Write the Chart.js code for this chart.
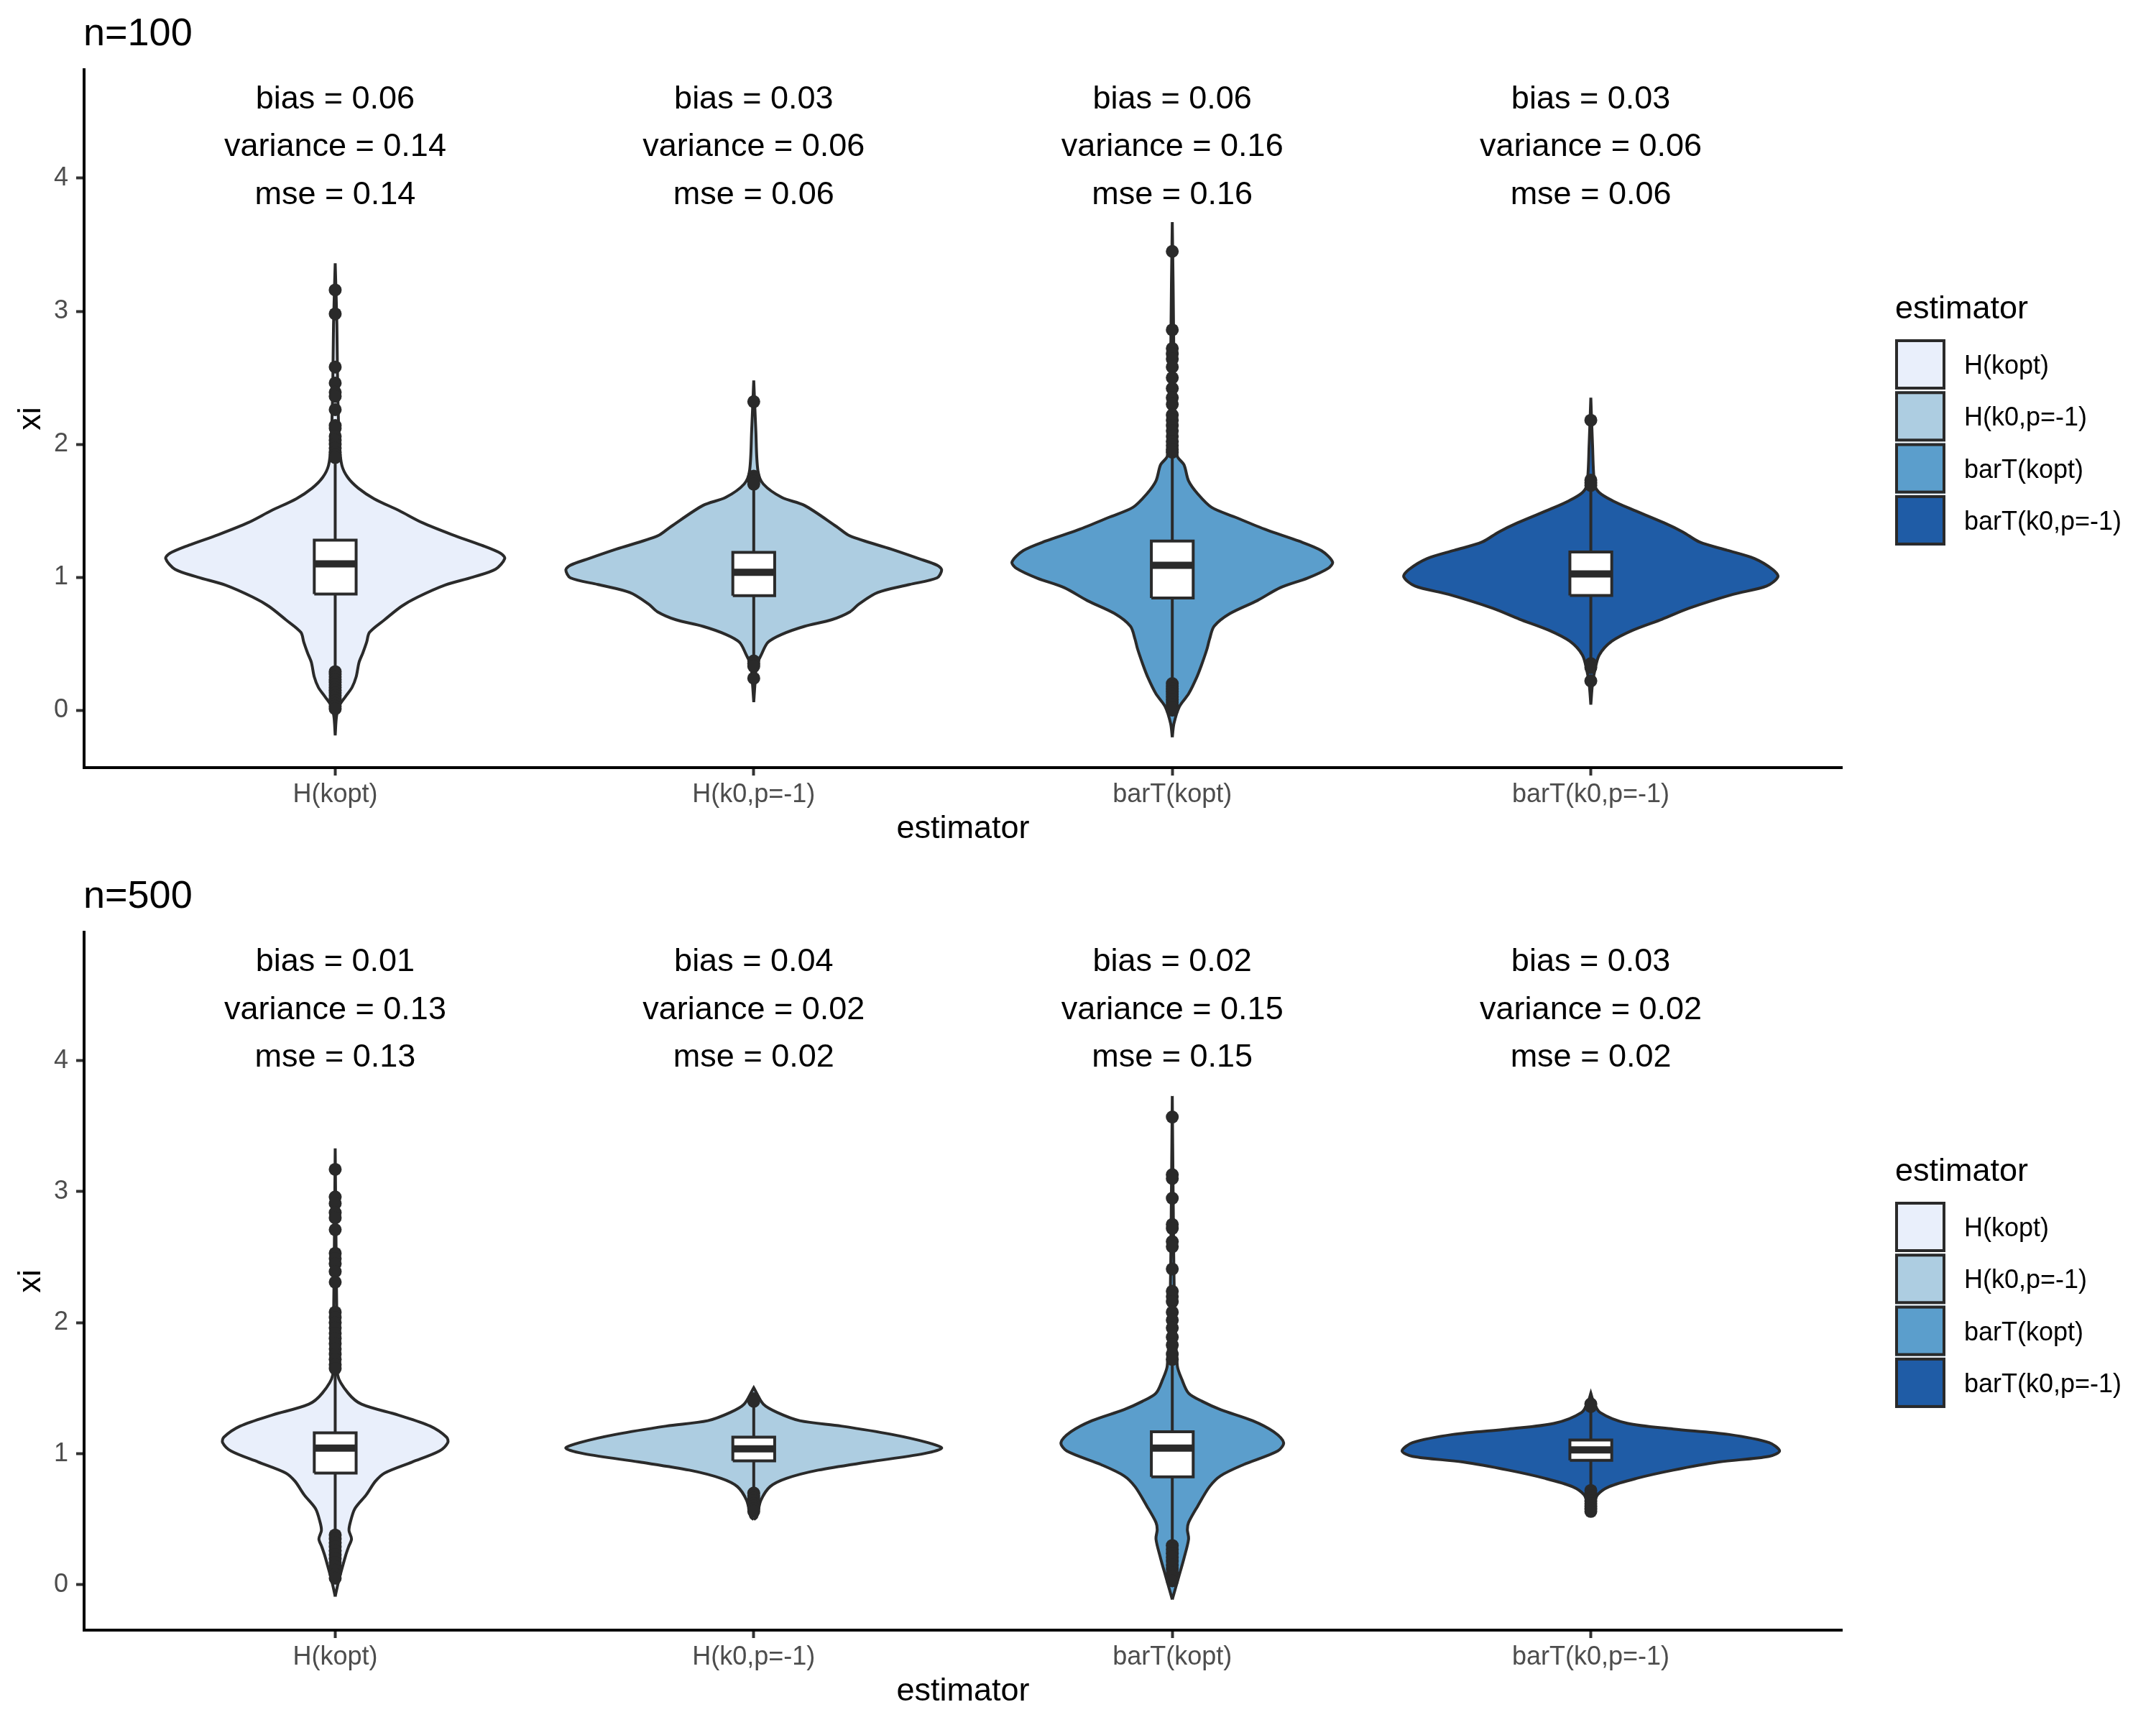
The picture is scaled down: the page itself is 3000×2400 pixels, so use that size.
<!DOCTYPE html>
<html>
<head>
<meta charset="utf-8">
<script src="https://cdn.jsdelivr.net/npm/chart.js@4.4.1/dist/chart.umd.min.js"></script>
<style>
  body { margin: 0; background: #fff; }
  canvas { display: block; }
</style>
</head>
<body>
<canvas id="chart100" width="3000" height="1200"></canvas>
<canvas id="chart500" width="3000" height="1200"></canvas>
<script>
const estimators = ['H(kopt)', 'H(k0,p=-1)', 'barT(kopt)', 'barT(k0,p=-1)'];
const estimatorFills = ['#E9EFFB', '#ADCDE1', '#5B9ECC', '#1F5CA6'];
const yTicks = [0, 1, 2, 3, 4];

// ---- n=100 ----
const bias100 = [0.06, 0.03, 0.06, 0.03];
const variance100 = [0.14, 0.06, 0.16, 0.06];
const mse100 = [0.14, 0.06, 0.16, 0.06];
const labelY100 = [4.59, 4.235, 3.875];
const yRange100 = [-0.432, 4.816];

// violin outlines: [xi, half width in category units]
const dens100 = [
  [[-0.19,0],[-0.05,0.003],[0.03,0.009],[0.10,0.024],[0.17,0.040],[0.25,0.050],[0.36,0.057],[0.43,0.066],[0.51,0.075],[0.585,0.082],[0.68,0.118],[0.78,0.158],[0.85,0.197],[0.94,0.262],[1.00,0.328],[1.06,0.383],[1.14,0.405],[1.18,0.395],[1.24,0.35],[1.32,0.279],[1.41,0.208],[1.50,0.153],[1.59,0.093],[1.67,0.055],[1.75,0.03],[1.84,0.016],[2.0,0.01],[2.4,0.006],[2.9,0.004],[3.36,0]],
  [[0.06,0],[0.2,0.003],[0.34,0.007],[0.41,0.017],[0.51,0.034],[0.57,0.067],[0.63,0.121],[0.68,0.186],[0.74,0.23],[0.80,0.252],[0.885,0.296],[0.945,0.372],[0.995,0.438],[1.055,0.449],[1.09,0.438],[1.14,0.394],[1.21,0.329],[1.31,0.23],[1.38,0.198],[1.54,0.121],[1.60,0.067],[1.70,0.023],[1.8,0.01],[2.1,0.005],[2.48,0]],
  [[-0.204,0],[-0.1,0.004],[0.027,0.017],[0.123,0.039],[0.244,0.058],[0.341,0.07],[0.461,0.083],[0.534,0.089],[0.631,0.1],[0.727,0.138],[0.824,0.203],[0.921,0.258],[0.993,0.323],[1.066,0.372],[1.114,0.383],[1.2,0.356],[1.272,0.302],[1.356,0.225],[1.453,0.149],[1.525,0.094],[1.626,0.061],[1.724,0.039],[1.845,0.028],[1.91,0.012],[2.1,0.007],[2.6,0.004],[3.2,0.002],[3.67,0]],
  [[0.042,0],[0.2,0.004],[0.29,0.009],[0.414,0.02],[0.518,0.05],[0.601,0.1],[0.684,0.17],[0.767,0.235],[0.871,0.34],[0.933,0.42],[1.003,0.447],[1.057,0.435],[1.14,0.391],[1.202,0.326],[1.264,0.26],[1.34,0.22],[1.409,0.175],[1.513,0.096],[1.575,0.052],[1.637,0.02],[1.70,0.009],[2.0,0.004],[2.35,0]]
];
const q1_100 = [0.873, 0.861, 0.843, 0.862];
const median100 = [1.10, 1.037, 1.09, 1.024];
const q3_100 = [1.279, 1.187, 1.272, 1.19];
const whiskLo100 = [0.28, 0.38, 0.22, 0.38];
const whiskHi100 = [1.86, 1.66, 1.90, 1.66];
const outliers100 = [
  [3.16, 2.98, 2.58, 2.46, 2.39, 2.36, 2.26, 2.14, 2.12, 2.06, 2.03, 2.0, 1.97, 1.94, 1.92, 1.90, 0.29, 0.27, 0.25, 0.23, 0.21, 0.19, 0.17, 0.15, 0.13, 0.11, 0.09, 0.07, 0.05, 0.03, 0.01],
  [2.32, 1.76, 1.74, 1.72, 1.70, 0.37, 0.35, 0.33, 0.24],
  [3.45, 2.86, 2.72, 2.68, 2.64, 2.58, 2.50, 2.42, 2.35, 2.30, 2.22, 2.18, 2.14, 2.10, 2.06, 2.02, 1.99, 1.96, 1.94, 0.20, 0.18, 0.16, 0.14, 0.12, 0.10, 0.08, 0.06, 0.04, 0.02, 0.0],
  [2.18, 1.73, 1.71, 1.69, 0.35, 0.32, 0.22]
];

// ---- n=500 ----
const bias500 = [0.01, 0.04, 0.02, 0.03];
const variance500 = [0.13, 0.02, 0.15, 0.02];
const mse500 = [0.13, 0.02, 0.15, 0.02];
const labelY500 = [4.75, 4.385, 4.025];
const yRange500 = [-0.346, 4.98];

const dens500 = [
  [[-0.09,0],[0.0,0.006],[0.098,0.014],[0.224,0.025],[0.29,0.032],[0.35,0.039],[0.413,0.033],[0.476,0.036],[0.581,0.047],[0.686,0.074],[0.79,0.096],[0.853,0.118],[0.937,0.184],[1.021,0.249],[1.085,0.269],[1.127,0.266],[1.211,0.227],[1.295,0.151],[1.378,0.063],[1.462,0.031],[1.60,0.006],[2.0,0.004],[2.6,0.002],[3.33,0]],
  [[0.497,0],[0.518,0.007],[0.644,0.017],[0.749,0.039],[0.812,0.078],[0.875,0.154],[0.937,0.274],[1.0,0.405],[1.043,0.449],[1.085,0.416],[1.148,0.329],[1.211,0.209],[1.252,0.11],[1.315,0.056],[1.378,0.023],[1.504,0]],
  [[-0.112,0],[0.056,0.015],[0.203,0.028],[0.35,0.039],[0.42,0.036],[0.476,0.039],[0.602,0.061],[0.749,0.089],[0.833,0.116],[0.917,0.17],[1.021,0.252],[1.085,0.266],[1.168,0.242],[1.252,0.192],[1.336,0.116],[1.399,0.072],[1.462,0.039],[1.567,0.023],[1.672,0.012],[2.2,0.005],[3.0,0.002],[3.73,0]],
  [[0.518,0],[0.6,0.006],[0.686,0.016],[0.749,0.044],[0.812,0.109],[0.875,0.197],[0.937,0.306],[0.98,0.426],[1.021,0.451],[1.085,0.426],[1.148,0.328],[1.189,0.197],[1.232,0.087],[1.315,0.022],[1.40,0.006],[1.462,0]]
];
const q1_500 = [0.853, 0.946, 0.824, 0.95];
const median500 = [1.043, 1.038, 1.043, 1.03];
const q3_500 = [1.16, 1.127, 1.168, 1.105];
const whiskLo500 = [0.40, 0.71, 0.31, 0.74];
const whiskHi500 = [1.62, 1.39, 1.68, 1.33];
const outliers500 = [
  [3.17, 2.96, 2.91, 2.84, 2.80, 2.71, 2.53, 2.49, 2.45, 2.39, 2.31, 2.08, 2.04, 2.00, 1.96, 1.92, 1.88, 1.84, 1.80, 1.76, 1.72, 1.68, 1.65, 0.38, 0.35, 0.32, 0.29, 0.26, 0.23, 0.20, 0.17, 0.14, 0.11, 0.08, 0.05],
  [1.42, 1.40, 0.70, 0.68, 0.66, 0.64, 0.62, 0.60, 0.58, 0.56],
  [3.57, 3.13, 3.10, 2.95, 2.75, 2.72, 2.62, 2.58, 2.41, 2.24, 2.20, 2.16, 2.08, 2.02, 1.96, 1.89, 1.83, 1.76, 1.72, 0.30, 0.27, 0.24, 0.21, 0.18, 0.15, 0.12, 0.09, 0.06, 0.03],
  [1.38, 1.36, 0.72, 0.70, 0.68, 0.66, 0.64, 0.62, 0.60, 0.58, 0.56]
];

const FONT = "'Liberation Sans', Arial, Helvetica, sans-serif";
const INK = '#2a2a2a';
const BOX_HALF = 0.05;

Chart.defaults.font.family = FONT;

// title, stat labels and legend, placed off the chart area
const panelDeco = {
  id: 'panelDeco',
  afterDraw(chart, args, opts) {
    const {ctx, chartArea, scales: {x, y}} = chart;
    ctx.save();
    ctx.fillStyle = '#000';
    ctx.font = `54px ${FONT}`;
    ctx.textAlign = 'left';
    ctx.textBaseline = 'alphabetic';
    ctx.fillText(opts.title, chartArea.left - 1, 63);

    ctx.font = `45px ${FONT}`;
    ctx.textAlign = 'center';
    ctx.textBaseline = 'middle';
    estimators.forEach((name, i) => {
      const px = x.getPixelForValue(i + 1);
      ctx.fillText('bias = ' + opts.bias[i].toFixed(2), px, y.getPixelForValue(opts.labelY[0]));
      ctx.fillText('variance = ' + opts.variance[i].toFixed(2), px, y.getPixelForValue(opts.labelY[1]));
      ctx.fillText('mse = ' + opts.mse[i].toFixed(2), px, y.getPixelForValue(opts.labelY[2]));
    });

    // legend
    const lx = chartArea.right + 74;
    ctx.textAlign = 'left';
    ctx.textBaseline = 'alphabetic';
    ctx.font = `45px ${FONT}`;
    ctx.fillText('estimator', lx, 443);
    ctx.font = `36px ${FONT}`;
    estimators.forEach((name, i) => {
      const top = 472 + i * 72.3;
      ctx.fillStyle = estimatorFills[i];
      ctx.fillRect(lx, top, 70, 70);
      ctx.strokeStyle = INK;
      ctx.lineWidth = 4;
      ctx.strokeRect(lx + 2, top + 2, 66, 66);
      ctx.fillStyle = '#000';
      ctx.fillText(name, lx + 96, top + 48);
    });
    ctx.restore();
  }
};

function violinPoints(pos, dens) {
  const right = dens.map(([v, w]) => ({x: pos + w, y: v}));
  const left = dens.slice().reverse().map(([v, w]) => ({x: pos - w, y: v}));
  return right.concat(left);
}

function buildDatasets(dens, q1, med, q3, lo, hi, outs) {
  const sets = [];
  estimators.forEach((name, i) => {
    const p = i + 1;
    sets.push({
      label: name + ' violin', order: 5,
      data: violinPoints(p, dens[i]),
      borderColor: INK, borderWidth: 4, backgroundColor: estimatorFills[i],
      fill: 'shape', tension: 0.3, pointRadius: 0
    });
    sets.push({
      label: name + ' whisker', order: 4,
      data: [{x: p, y: lo[i]}, {x: p, y: hi[i]}],
      borderColor: INK, borderWidth: 4, fill: false, pointRadius: 0
    });
    sets.push({
      label: name + ' box', order: 3,
      data: [
        {x: p - BOX_HALF, y: q1[i]}, {x: p + BOX_HALF, y: q1[i]},
        {x: p + BOX_HALF, y: q3[i]}, {x: p - BOX_HALF, y: q3[i]},
        {x: p - BOX_HALF, y: q1[i]}
      ],
      borderColor: INK, borderWidth: 4, backgroundColor: '#ffffff',
      fill: 'shape', tension: 0, pointRadius: 0, borderJoinStyle: 'miter'
    });
    sets.push({
      label: name + ' median', order: 2,
      data: [{x: p - BOX_HALF, y: med[i]}, {x: p + BOX_HALF, y: med[i]}],
      borderColor: INK, borderWidth: 10, borderCapStyle: 'butt', fill: false, pointRadius: 0
    });
    sets.push({
      label: name + ' outliers', order: 1,
      data: outs[i].map(v => ({x: p, y: v})),
      showLine: false, pointRadius: 9, pointBackgroundColor: INK, pointBorderWidth: 0
    });
  });
  return sets;
}

function makeChart(id, cfg) {
  return new Chart(document.getElementById(id), {
    type: 'line',
    data: {datasets: buildDatasets(cfg.dens, cfg.q1, cfg.med, cfg.q3, cfg.lo, cfg.hi, cfg.outs)},
    options: {
      responsive: false,
      animation: false,
      devicePixelRatio: 1,
      layout: {padding: {top: 97, right: 437, bottom: 0, left: 0}},
      plugins: {
        legend: {display: false},
        tooltip: {enabled: false},
        panelDeco: {title: cfg.title, bias: cfg.bias, variance: cfg.variance, mse: cfg.mse, labelY: cfg.labelY}
      },
      scales: {
        x: {
          type: 'linear', min: 0.4, max: 4.6,
          afterBuildTicks: s => { s.ticks = estimators.map((n, i) => ({value: i + 1})); },
          afterFit: s => { s.height = 132; },
          ticks: {callback: (v, i) => estimators[i], font: {size: 36}, color: '#4D4D4D', padding: 5, maxRotation: 0, autoSkip: false},
          grid: {drawOnChartArea: false, tickLength: 11, tickWidth: 4, tickColor: '#333333'},
          border: {display: true, color: '#000000', width: 4},
          title: {display: true, text: 'estimator', font: {size: 45}, color: '#000', padding: {top: 0, bottom: 19}}
        },
        y: {
          type: 'linear', min: cfg.yRange[0], max: cfg.yRange[1],
          afterBuildTicks: s => { s.ticks = yTicks.map(v => ({value: v})); },
          afterFit: s => { s.width = 117; },
          ticks: {callback: v => String(v), font: {size: 36}, color: '#4D4D4D', padding: 11},
          grid: {drawOnChartArea: false, tickLength: 11, tickWidth: 4, tickColor: '#333333'},
          border: {display: true, color: '#000000', width: 4},
          title: {display: true, text: 'xi', font: {size: 45}, color: '#000', padding: {top: 17, bottom: 0}}
        }
      }
    },
    plugins: [panelDeco]
  });
}

makeChart('chart100', {
  title: 'n=100', bias: bias100, variance: variance100, mse: mse100, labelY: labelY100, yRange: yRange100,
  dens: dens100, q1: q1_100, med: median100, q3: q3_100, lo: whiskLo100, hi: whiskHi100, outs: outliers100
});
makeChart('chart500', {
  title: 'n=500', bias: bias500, variance: variance500, mse: mse500, labelY: labelY500, yRange: yRange500,
  dens: dens500, q1: q1_500, med: median500, q3: q3_500, lo: whiskLo500, hi: whiskHi500, outs: outliers500
});
</script>
</body>
</html>
